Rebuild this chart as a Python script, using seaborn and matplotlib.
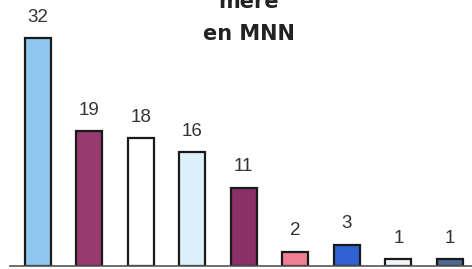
import pandas as pd
import matplotlib.pyplot as plt
import seaborn as sns

# valeurs des barres
categories = ['A', 'B', 'C', 'D', 'E', 'F', 'G', 'H', 'I']
counts = [32, 19, 18, 16, 11, 2, 3, 1, 1]
bar_colors = ['#8fc6ee', '#963a70', '#ffffff', '#dcf1fa', '#8a2f68',
              '#ef7f92', '#2f62d0', '#eef7fa', '#4d6a92']
title_lines = ['mère', 'en MNN']

df = pd.DataFrame({'cat': categories, 'n': counts})

sns.set_style('white')
plt.rcParams['font.family'] = ['Liberation Sans', 'DejaVu Sans']

fig = plt.figure(figsize=(4.72, 2.69), dpi=100)
ax = fig.add_axes([0.021, 0.011, 0.979, 0.989])

sns.barplot(data=df, x='cat', y='n', hue='cat', palette=bar_colors,
            legend=False, width=0.5, edgecolor='#1a1a1a', linewidth=1.6,
            saturation=1, ax=ax)

# étiquettes au-dessus des barres
for i, v in enumerate(counts):
    ax.text(i, v + 2.3, str(v), ha='center', va='baseline', fontsize=13.5, color='#333333')

ax.set_xlim(-0.54, 8.43)
ax.set_ylim(0, 37.4)
ax.set_xlabel('')
ax.set_ylabel('')
ax.set_xticks([])
ax.set_yticks([])
for s in ['top', 'right', 'left']:
    ax.spines[s].set_visible(False)
ax.spines['bottom'].set_color('#555555')
ax.spines['bottom'].set_linewidth(1.2)

# titre (coupé en haut dans l'original)
fig.text(249 / 472, 1 - 8 / 269, title_lines[0], ha='center', va='baseline',
         fontsize=15, fontweight='bold', color='#222222', family='DejaVu Sans')
fig.text(249 / 472, 1 - 40 / 269, title_lines[1], ha='center', va='baseline',
         fontsize=15, fontweight='bold', color='#222222', family='DejaVu Sans')

plt.savefig('out.png', dpi=100)
